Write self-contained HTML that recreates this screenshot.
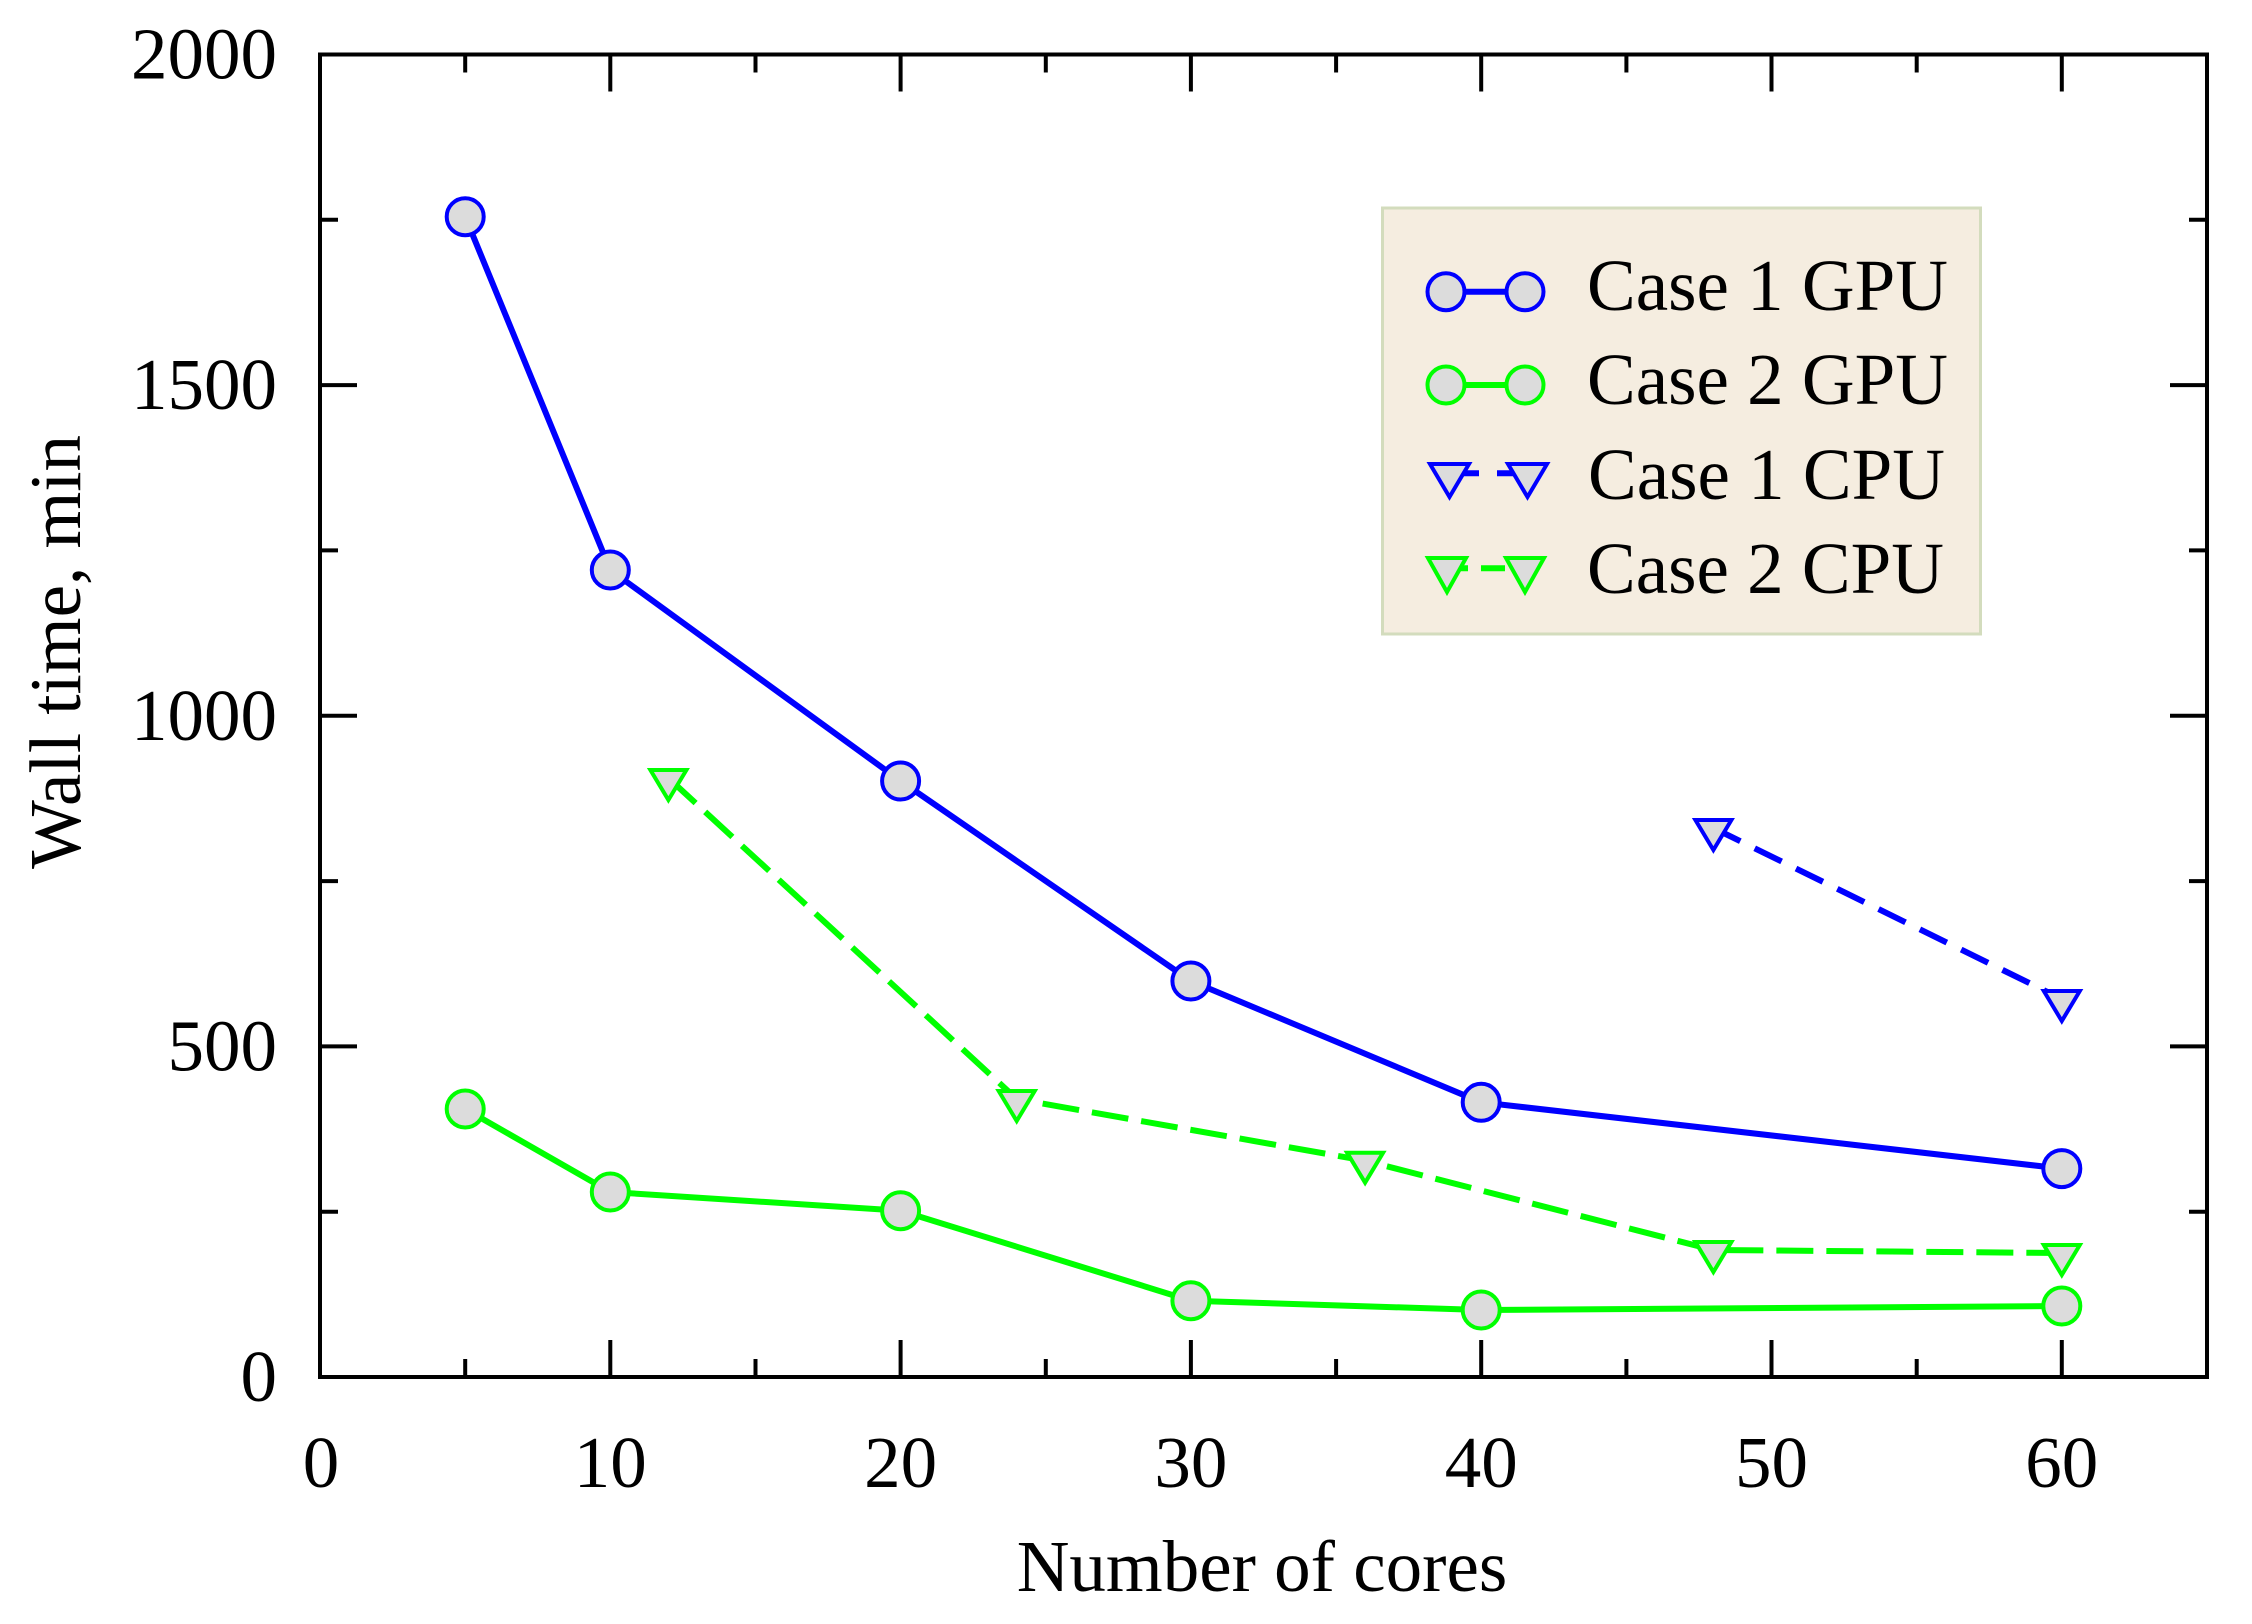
<!DOCTYPE html>
<html><head><meta charset="utf-8"><style>
html,body{margin:0;padding:0;background:#fff;}
svg{display:block;}
text{font-family:"Liberation Serif","Times New Roman",serif;fill:#000;}
</style></head><body>
<svg width="2252" height="1624" viewBox="0 0 2252 1624" xmlns="http://www.w3.org/2000/svg">
<rect width="2252" height="1624" fill="#fff"/>
<!-- ticks -->
<g stroke="#000" stroke-width="4" fill="none">
<!-- x major bottom/top -->
<path d="M610.3 1377V1340M900.6 1377V1340M1190.9 1377V1340M1481.2 1377V1340M1771.5 1377V1340M2061.8 1377V1340
M610.3 54.5V91.5M900.6 54.5V91.5M1190.9 54.5V91.5M1481.2 54.5V91.5M1771.5 54.5V91.5M2061.8 54.5V91.5"/>
<!-- x minor -->
<path d="M465.2 1377V1359M755.5 1377V1359M1045.8 1377V1359M1336.1 1377V1359M1626.4 1377V1359M1916.7 1377V1359
M465.2 54.5V72.5M755.5 54.5V72.5M1045.8 54.5V72.5M1336.1 54.5V72.5M1626.4 54.5V72.5M1916.7 54.5V72.5"/>
<!-- y major -->
<path d="M320 1046.4H357M320 715.8H357M320 385.1H357
M2207 1046.4H2170M2207 715.8H2170M2207 385.1H2170"/>
<!-- y minor -->
<path d="M320 1211.7H338M320 881.1H338M320 550.4H338M320 219.8H338
M2207 1211.7H2189M2207 881.1H2189M2207 550.4H2189M2207 219.8H2189"/>
</g>
<!-- legend -->
<rect x="1382.5" y="208" width="598" height="426" fill="#f5ede0" stroke="#d3dcbd" stroke-width="3"/>
<g font-size="73">
<text x="1587" y="310">Case 1 GPU</text>
<text x="1587" y="404">Case 2 GPU</text>
<text x="1588" y="499">Case 1 CPU</text>
<text x="1587" y="593">Case 2 CPU</text>
</g>
<g stroke-width="6" fill="none">
<line x1="1446" y1="291.7" x2="1525" y2="291.7" stroke="#0000ff"/>
<line x1="1446" y1="385" x2="1525" y2="385" stroke="#00ff00"/>
<path d="M1449 473.3H1479M1497 473.3H1527" stroke="#0000ff"/>
<path d="M1447 568.3H1468M1481 568.3H1505" stroke="#00ff00"/>
</g>
<g fill="#dcdcdc" stroke-width="4">
<circle cx="1446" cy="291.7" r="18.5" stroke="#0000ff"/>
<circle cx="1525" cy="291.7" r="18.5" stroke="#0000ff"/>
<circle cx="1446" cy="385" r="18.5" stroke="#00ff00"/>
<circle cx="1525" cy="385" r="18.5" stroke="#00ff00"/>
<path d="M1430 464H1469L1449.5 497Z" stroke="#0000ff"/>
<path d="M1508 464H1547L1527.5 497Z" stroke="#0000ff"/>
<path d="M1428 558H1466L1447 592Z" stroke="#00ff00"/>
<path d="M1506 558H1544L1525 592Z" stroke="#00ff00"/>
</g>
<!-- series lines -->
<g fill="none" stroke-width="6" stroke-linejoin="round">
<polyline stroke="#0000ff" points="465.2,216.7 610.3,570 900.6,781 1190.9,981 1481.2,1102.3 2061.8,1168.6"/>
<polyline stroke="#00ff00" points="465.2,1109 610.3,1192 900.6,1210.7 1190.9,1300.7 1481.2,1310 2061.8,1306"/>
<polyline stroke="#0000ff" stroke-dasharray="30 16" points="1713.4,828 2061.8,999"/>
<polyline stroke="#00ff00" stroke-dasharray="37 13" points="668.4,778 1016.7,1099 1365.1,1160.7 1713.4,1250 2061.8,1253"/>
</g>
<!-- markers -->
<g fill="#dcdcdc" stroke-width="4">
<g stroke="#0000ff">
<circle cx="465.2" cy="216.7" r="18.5"/>
<circle cx="610.3" cy="570" r="18.5"/>
<circle cx="900.6" cy="781" r="18.5"/>
<circle cx="1190.9" cy="981" r="18.5"/>
<circle cx="1481.2" cy="1102.3" r="18.5"/>
<circle cx="2061.8" cy="1168.6" r="18.5"/>
</g>
<g stroke="#00ff00">
<circle cx="465.2" cy="1109" r="18.5"/>
<circle cx="610.3" cy="1192" r="18.5"/>
<circle cx="900.6" cy="1210.7" r="18.5"/>
<circle cx="1190.9" cy="1300.7" r="18.5"/>
<circle cx="1481.2" cy="1310" r="18.5"/>
<circle cx="2061.8" cy="1306" r="18.5"/>
</g>
<g stroke="#0000ff">
<path d="M1695.4 820H1731.4L1713.4 850Z"/>
<path d="M2043.8 991H2079.8L2061.8 1021Z"/>
</g>
<g stroke="#00ff00">
<path d="M650.4 770H686.4L668.4 800Z"/>
<path d="M998.7 1091H1034.7L1016.7 1121Z"/>
<path d="M1347.1 1152.7H1383.1L1365.1 1182.7Z"/>
<path d="M1695.4 1242H1731.4L1713.4 1272Z"/>
<path d="M2043.8 1245H2079.8L2061.8 1275Z"/>
</g>
</g>
<!-- axes box -->
<rect x="320" y="54.5" width="1887" height="1322.5" fill="none" stroke="#000" stroke-width="4"/>
<!-- tick labels -->
<g font-size="73" text-anchor="end">
<text x="277" y="1401">0</text>
<text x="277" y="1070.4">500</text>
<text x="277" y="739.8">1000</text>
<text x="277" y="409.1">1500</text>
<text x="277" y="78.5">2000</text>
</g>
<g font-size="73" text-anchor="middle">
<text x="321" y="1487">0</text>
<text x="610.3" y="1487">10</text>
<text x="900.6" y="1487">20</text>
<text x="1190.9" y="1487">30</text>
<text x="1481.2" y="1487">40</text>
<text x="1771.5" y="1487">50</text>
<text x="2061.8" y="1487">60</text>
<text x="1262" y="1591">Number of cores</text>
<text transform="translate(80,652) rotate(-90)" x="0" y="0">Wall time, min</text>
</g>
</svg>
</body></html>
